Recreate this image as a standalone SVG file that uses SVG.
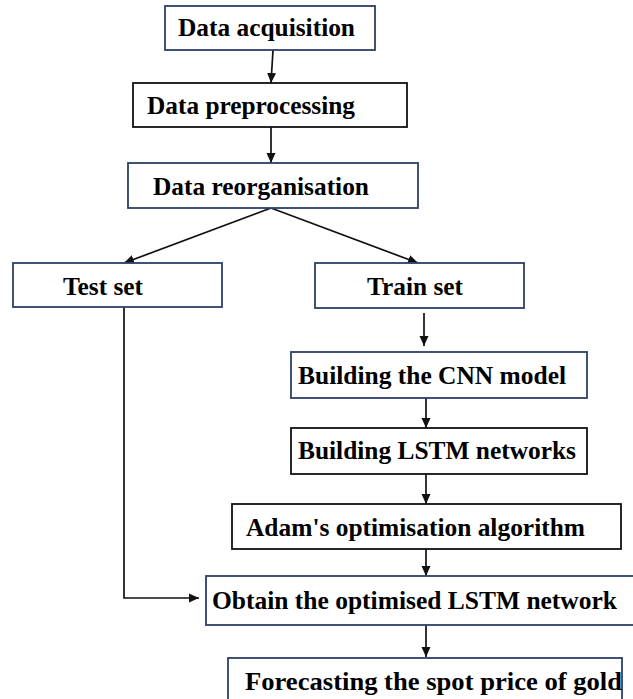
<svg xmlns="http://www.w3.org/2000/svg" width="633" height="699" viewBox="0 0 633 699">
  <style>
    .box { fill: #ffffff; stroke-width: 1.8; }
    .navy { stroke: #2c4165; }
    .blk { stroke: #111111; }
    .lbl { font-weight: bold; font-size: 25px; fill: #000000; }
    .con { fill: none; stroke: #111111; stroke-width: 1.7; }
  </style>
  <defs>
    <marker id="arr" viewBox="0 0 10 10" refX="10" refY="5" markerWidth="10" markerHeight="10" markerUnits="userSpaceOnUse" orient="auto">
      <path d="M0,0.5 L10,5 L0,9.5 Z" fill="#111111"/>
    </marker>
  </defs>
  <rect width="633" height="699" fill="#ffffff"/>

  <g id="connectors">
    <line class="con" x1="273" y1="50" x2="271" y2="83" marker-end="url(#arr)"/>
    <line class="con" x1="271" y1="127" x2="271" y2="163" marker-end="url(#arr)"/>
    <line class="con" x1="271" y1="208" x2="124" y2="263" marker-end="url(#arr)"/>
    <line class="con" x1="271" y1="208" x2="418" y2="263" marker-end="url(#arr)"/>
    <line class="con" x1="424" y1="313" x2="424" y2="346" marker-end="url(#arr)"/>
    <line class="con" x1="426" y1="398" x2="426" y2="428" marker-end="url(#arr)"/>
    <line class="con" x1="426" y1="474" x2="426" y2="504" marker-end="url(#arr)"/>
    <line class="con" x1="426" y1="549" x2="426" y2="576" marker-end="url(#arr)"/>
    <polyline class="con" points="124,307 124,598 199,598" marker-end="url(#arr)"/>
    <line class="con" x1="426" y1="625" x2="426" y2="657" marker-end="url(#arr)"/>
  </g>

  <g font-family="Liberation Serif, Times New Roman, serif">
  <g id="data-acquisition">
    <rect class="box navy" x="165" y="6" width="210" height="44"/>
    <text class="lbl" x="178" y="36" textLength="177" lengthAdjust="spacingAndGlyphs">Data acquisition</text>
  </g>
  <g id="data-preprocessing">
    <rect class="box blk" x="133" y="83" width="274" height="44"/>
    <text class="lbl" x="147" y="114" textLength="208" lengthAdjust="spacingAndGlyphs">Data preprocessing</text>
  </g>
  <g id="data-reorganisation">
    <rect class="box navy" x="128" y="163" width="290" height="45"/>
    <text class="lbl" x="153" y="195" textLength="216" lengthAdjust="spacingAndGlyphs">Data reorganisation</text>
  </g>
  <g id="test-set">
    <rect class="box navy" x="13" y="263" width="209" height="44"/>
    <text class="lbl" x="63" y="295" textLength="80" lengthAdjust="spacingAndGlyphs">Test set</text>
  </g>
  <g id="train-set">
    <rect class="box navy" x="315" y="263" width="209" height="45"/>
    <text class="lbl" x="367" y="295" textLength="96" lengthAdjust="spacingAndGlyphs">Train set</text>
  </g>
  <g id="cnn-model">
    <rect class="box navy" x="291" y="352" width="296" height="46"/>
    <text class="lbl" x="298" y="384" textLength="268" lengthAdjust="spacingAndGlyphs">Building the CNN model</text>
  </g>
  <g id="lstm-networks">
    <rect class="box blk" x="291" y="428" width="296" height="46"/>
    <text class="lbl" x="298" y="459" textLength="278" lengthAdjust="spacingAndGlyphs">Building LSTM networks</text>
  </g>
  <g id="adam">
    <rect class="box blk" x="232" y="504" width="389" height="45"/>
    <text class="lbl" x="246" y="536" textLength="339" lengthAdjust="spacingAndGlyphs">Adam's optimisation algorithm</text>
  </g>
  <g id="optimised-lstm">
    <rect class="box navy" x="206" y="576" width="440" height="49"/>
    <text class="lbl" x="212" y="609" textLength="405" lengthAdjust="spacingAndGlyphs">Obtain the optimised LSTM network</text>
  </g>
  <g id="forecast">
    <rect class="box navy" x="228" y="658" width="394" height="60"/>
    <text class="lbl" x="245" y="690" textLength="377" lengthAdjust="spacingAndGlyphs">Forecasting the spot price of gold</text>
  </g>
  </g>
</svg>
